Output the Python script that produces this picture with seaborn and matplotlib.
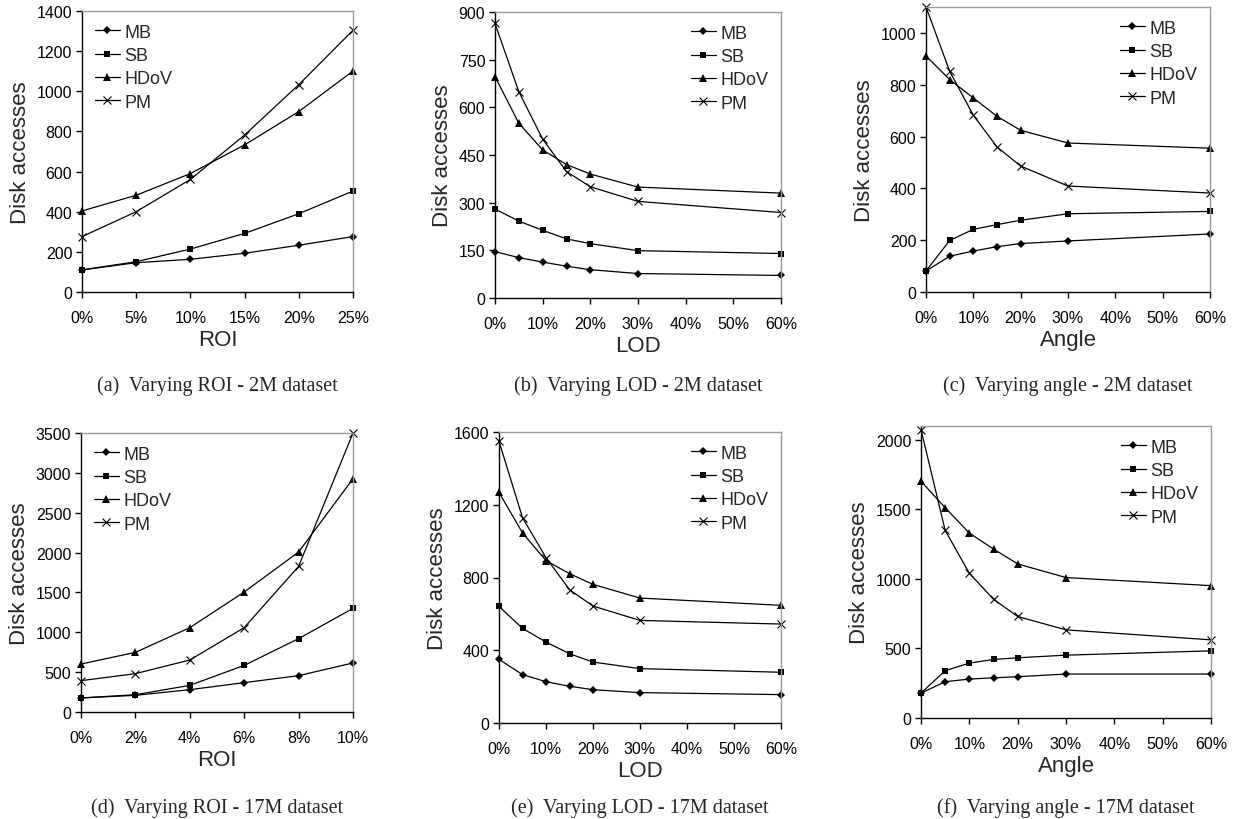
import matplotlib
matplotlib.use('Agg')
import matplotlib.pyplot as plt
import numpy as np
import pandas as pd
import seaborn as sns

sns.set_style('ticks')
plt.rcParams['font.family'] = ['Liberation Sans', 'DejaVu Sans']

METHODS = ['MB', 'SB', 'HDoV', 'PM']
MARKERS = {'MB': 'D', 'SB': 's', 'HDoV': '^', 'PM': 'x'}
MSIZE = {'MB': 4, 'SB': 5, 'HDoV': 6, 'PM': 6}

# (a) ROI, 2M dataset
ROI_2M = [0, 5, 10, 15, 20, 25]
ROI_2M_VALUES = {
    'MB': [110, 146, 163, 193, 233, 276],
    'SB': [110, 151, 214, 292, 390, 503],
    'HDoV': [404, 482, 590, 733, 899, 1101],
    'PM': [276, 400, 561, 782, 1033, 1304],
}
# (b) LOD, 2M dataset
LOD_2M = [0, 5, 10, 15, 20, 30, 60]
LOD_2M_VALUES = {
    'MB': [146, 127, 113, 100, 89, 77, 71],
    'SB': [280, 242, 213, 186, 171, 149, 140],
    'HDoV': [697, 550, 466, 420, 390, 349, 330],
    'PM': [864, 649, 500, 398, 350, 304, 269],
}
# (c) angle, 2M dataset
ANGLE_2M = [0, 5, 10, 15, 20, 30, 60]
ANGLE_2M_VALUES = {
    'MB': [81, 138, 158, 175, 187, 197, 224],
    'SB': [81, 199, 242, 260, 277, 302, 311],
    'HDoV': [911, 820, 749, 678, 624, 575, 555],
    'PM': [1100, 852, 682, 560, 486, 409, 382],
}
# (d) ROI, 17M dataset
ROI_17M = [0, 2, 4, 6, 8, 10]
ROI_17M_VALUES = {
    'MB': [176, 209, 280, 368, 456, 615],
    'SB': [176, 217, 334, 585, 920, 1300],
    'HDoV': [602, 748, 1058, 1505, 2007, 2926],
    'PM': [393, 481, 652, 1058, 1827, 3500],
}
# (e) LOD, 17M dataset
LOD_17M = [0, 5, 10, 15, 20, 30, 60]
LOD_17M_VALUES = {
    'MB': [350, 266, 227, 202, 183, 167, 156],
    'SB': [641, 520, 445, 381, 335, 299, 279],
    'HDoV': [1268, 1045, 893, 821, 762, 687, 647],
    'PM': [1549, 1129, 909, 733, 643, 564, 544],
}
# (f) angle, 17M dataset
ANGLE_17M = [0, 5, 10, 15, 20, 30, 60]
ANGLE_17M_VALUES = {
    'MB': [179, 261, 280, 289, 297, 316, 316],
    'SB': [179, 340, 395, 421, 433, 452, 483],
    'HDoV': [1703, 1512, 1330, 1215, 1108, 1010, 952],
    'PM': [2074, 1349, 1041, 854, 730, 634, 562],
}

PANELS = [
    dict(x=ROI_2M, v=ROI_2M_VALUES, xlabel='ROI', xticks=[0, 5, 10, 15, 20, 25],
         yticks=np.arange(0, 1401, 200), ylim=1400, loc='upper left',
         caption='(a)  Varying ROI - 2M dataset', box=[82, 12, 353, 293], cy=386),
    dict(x=LOD_2M, v=LOD_2M_VALUES, xlabel='LOD', xticks=[0, 10, 20, 30, 40, 50, 60],
         yticks=np.arange(0, 901, 150), ylim=900, loc='upper right',
         caption='(b)  Varying LOD - 2M dataset', box=[495, 13, 781, 299], cy=386),
    dict(x=ANGLE_2M, v=ANGLE_2M_VALUES, xlabel='Angle', xticks=[0, 10, 20, 30, 40, 50, 60],
         yticks=np.arange(0, 1001, 200), ylim=1100, loc='upper right',
         caption='(c)  Varying angle - 2M dataset', box=[926, 8, 1210, 293], cy=386),
    dict(x=ROI_17M, v=ROI_17M_VALUES, xlabel='ROI', xticks=[0, 2, 4, 6, 8, 10],
         yticks=np.arange(0, 3501, 500), ylim=3500, loc='upper left',
         caption='(d)  Varying ROI - 17M dataset', box=[81, 434, 353, 713], cy=808),
    dict(x=LOD_17M, v=LOD_17M_VALUES, xlabel='LOD', xticks=[0, 10, 20, 30, 40, 50, 60],
         yticks=np.arange(0, 1601, 400), ylim=1600, loc='upper right',
         caption='(e)  Varying LOD - 17M dataset', box=[499, 433, 781, 724], cy=808),
    dict(x=ANGLE_17M, v=ANGLE_17M_VALUES, xlabel='Angle', xticks=[0, 10, 20, 30, 40, 50, 60],
         yticks=np.arange(0, 2001, 500), ylim=2100, loc='upper right',
         caption='(f)  Varying angle - 17M dataset', box=[921, 427, 1211, 719], cy=808),
]

W, H = 1236, 820
fig = plt.figure(figsize=(W / 100, H / 100), dpi=100)

for p in PANELS:
    l, t, r, b = p['box']
    ax = fig.add_axes([l / W, 1 - b / H, (r - l) / W, (b - t) / H])
    df = pd.DataFrame(p['v'])
    df['x'] = p['x']
    long = df.melt(id_vars='x', var_name='method', value_name='accesses')
    for m in METHODS:
        sub = long[long.method == m]
        sns.lineplot(data=sub, x='x', y='accesses', ax=ax, color='black', lw=0.9,
                     marker=MARKERS[m], markersize=MSIZE[m], markeredgewidth=0.8 if m == 'PM' else 0,
                     markerfacecolor='black', markeredgecolor='black', label=m, clip_on=False)
    ax.set_xlim(p['xticks'][0], p['xticks'][-1])
    ax.set_ylim(0, p['ylim'])
    ax.set_xticks(p['xticks'])
    ax.set_xticklabels(['%d%%' % v for v in p['xticks']])
    ax.set_yticks(p['yticks'])
    ax.tick_params(direction='out', length=4, width=1, pad=9, labelsize=11.5, colors='black')
    ax.tick_params(axis='y', pad=3)
    for s in ['left', 'bottom']:
        ax.spines[s].set_color('black')
        ax.spines[s].set_linewidth(1)
    for s in ['top', 'right']:
        ax.spines[s].set_color('#9a9a9a')
        ax.spines[s].set_linewidth(1)
    ax.set_xlabel(p['xlabel'], fontsize=16, labelpad=3)
    ax.set_ylabel('Disk accesses', fontsize=16, labelpad=4)
    ax.legend(loc=p['loc'], frameon=False, fontsize=13, handlelength=1.4,
              handletextpad=0.25, labelspacing=0.35, borderaxespad=0.3)
    fig.text((l + r) / 2 / W, 1 - p['cy'] / H, p['caption'], ha='center', va='center',
             fontsize=14.5, family=['Liberation Serif', 'DejaVu Serif'])

fig.savefig('out.png', dpi=100, facecolor='white')
